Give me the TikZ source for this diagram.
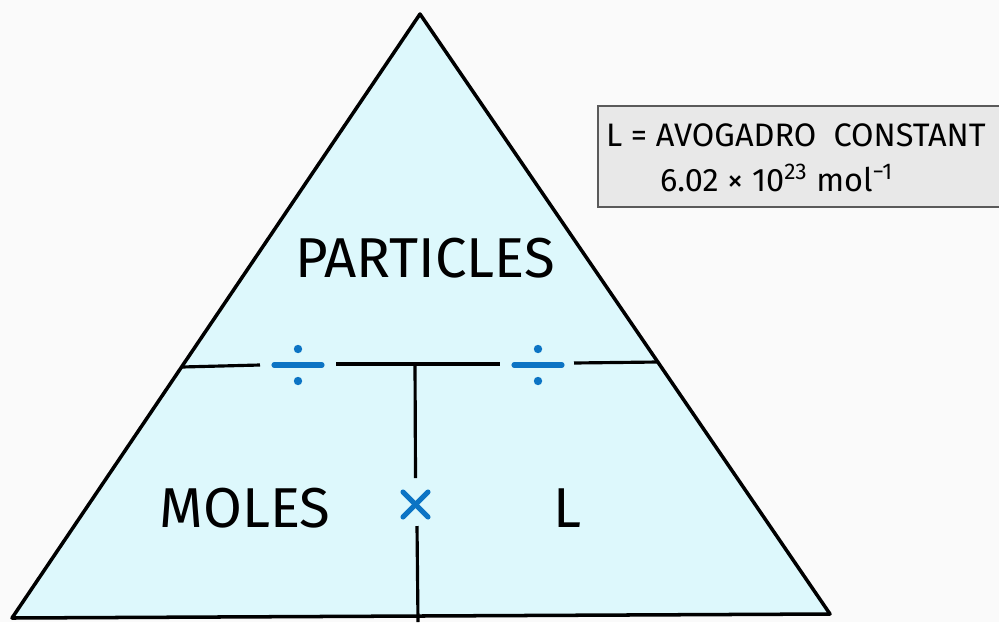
\documentclass[tikz,border=0pt]{standalone}
\usepackage{fontspec}
\setmainfont{Fira Sans}
\definecolor{pagebg}{HTML}{FAFAFA}
\definecolor{trifill}{HTML}{DDF8FC}
\definecolor{opblue}{HTML}{0C74C4}
\definecolor{boxfill}{HTML}{E8E8E8}
\definecolor{boxline}{HTML}{5A5A5A}
\begin{document}
\begin{tikzpicture}[x=0.02cm,y=-0.02cm]
	\tikzset{edge/.style={line width=2pt, line join=round},
		divider/.style={line width=1.8pt},
		opsign/.style={opblue, line width=2.9pt, line cap=round},
		bigtext/.style={font=\fontsize{32}{32}\selectfont},
		boxtext/.style={font=\fontsize{18.5}{18.5}\selectfont, anchor=base west}}
	\useasboundingbox[fill=pagebg] (0,0) rectangle (999,622);
	% triangle
	\coordinate (apex) at (420,14);
	\coordinate (bl) at (12,618);
	\coordinate (br) at (830,614);
	\filldraw[fill=trifill, edge] (apex) -- (br) -- (bl) -- cycle;
	% dividers
	\coordinate (hl) at (182,367);
	\coordinate (hr) at (658,362);
	\coordinate (vt) at (415,364);
	\coordinate (vb) at (418,622);
	\draw[divider] (hl) -- (260,365);
	\draw[divider] (336,364) -- (500,364);
	\draw[divider] (574,363) -- (hr);
	\draw[divider] (vt) -- (415.5,478);
	\draw[divider] (417,526) -- (vb);
	% divide signs
	\foreach \sx in {298,538}{
		\draw[opsign] (\sx-24,365) -- (\sx+24,365);
		\fill[opblue] (\sx,349) circle (4.2);
		\fill[opblue] (\sx,381) circle (4.2);
	}
	% times sign
	\draw[opsign] (403,492) -- (428,517);
	\draw[opsign] (428,492) -- (403,517);
	% labels
	\node[bigtext] (particles) at (425,258) {PARTICLES};
	\node[bigtext] (moles) at (245,508) {MOLES};
	\node[bigtext] (lconst) at (567,508) {L};
	% info box
	\filldraw[fill=boxfill, draw=boxline, line width=1pt] (598,106) rectangle (1010,207);
	\node[boxtext] (avo) at (600,146) {L = AVOGADRO~~CONSTANT};
	\node[boxtext] (avoval) at (654,191) {6.02 × 10\textsuperscript{23} mol\textsuperscript{−1}};
\end{tikzpicture}
\end{document}
